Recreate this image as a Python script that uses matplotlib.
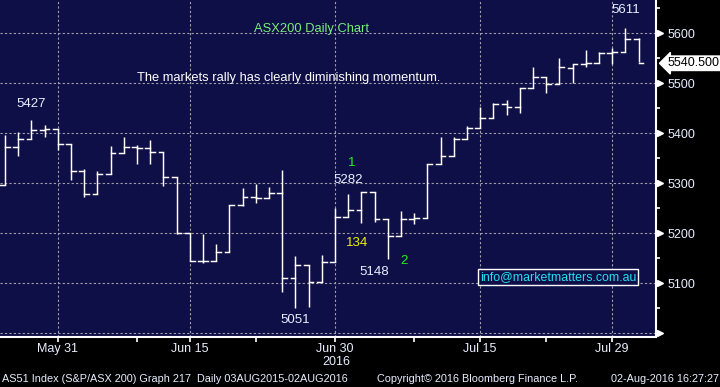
import matplotlib
matplotlib.use("Agg")
import matplotlib.pyplot as plt
from matplotlib.ticker import FixedLocator, MultipleLocator

dates = ["May 25", "May 26", "May 27", "May 30", "May 31",
         "Jun 1", "Jun 2", "Jun 3", "Jun 6", "Jun 7", "Jun 8", "Jun 9", "Jun 10",
         "Jun 14", "Jun 15", "Jun 16", "Jun 17", "Jun 20", "Jun 21", "Jun 22",
         "Jun 23", "Jun 24", "Jun 27", "Jun 28", "Jun 29", "Jun 30",
         "Jul 1", "Jul 4", "Jul 5", "Jul 6", "Jul 7", "Jul 8", "Jul 11", "Jul 12",
         "Jul 13", "Jul 14", "Jul 15", "Jul 18", "Jul 19", "Jul 20", "Jul 21",
         "Jul 22", "Jul 25", "Jul 26", "Jul 27", "Jul 28", "Jul 29",
         "Aug 1", "Aug 2"]
opens = [5297, 5372, 5388, 5406, 5408, 5379, 5325, 5278, 5318, 5360, 5372, 5370, 5362,
         5312, 5201, 5145, 5145, 5162, 5257, 5273, 5270, 5280, 5111, 5137, 5102, 5142,
         5232, 5247, 5282, 5228, 5195, 5229, 5230, 5339, 5355, 5388, 5411, 5430, 5458,
         5452, 5490, 5512, 5498, 5530, 5539, 5540, 5560, 5563, 5589]
highs = [5397, 5402, 5427, 5417, 5408, 5379, 5328, 5325, 5375, 5392, 5377, 5387, 5362,
         5312, 5201, 5198, 5179, 5257, 5290, 5298, 5292, 5327, 5155, 5137, 5157, 5250,
         5279, 5282, 5282, 5228, 5245, 5240, 5339, 5392, 5392, 5415, 5452, 5461, 5467,
         5490, 5532, 5513, 5550, 5539, 5567, 5563, 5570, 5611, 5590]
lows = [5297, 5355, 5388, 5393, 5367, 5307, 5272, 5278, 5318, 5360, 5338, 5338, 5295,
        5198, 5145, 5141, 5145, 5162, 5255, 5260, 5270, 5082, 5051, 5052, 5102, 5142,
        5232, 5220, 5223, 5148, 5195, 5218, 5230, 5339, 5355, 5388, 5411, 5430, 5437,
        5441, 5490, 5480, 5498, 5500, 5533, 5540, 5539, 5563, 5542]
closes = [5372, 5388, 5406, 5408, 5379, 5325, 5278, 5318, 5360, 5372, 5370, 5362, 5312,
          5201, 5145, 5145, 5162, 5257, 5273, 5270, 5280, 5111, 5137, 5102, 5142, 5232,
          5247, 5282, 5228, 5195, 5229, 5230, 5339, 5355, 5388, 5411, 5430, 5458, 5452,
          5490, 5512, 5498, 5533, 5539, 5540, 5560, 5563, 5589, 5540.5]

major_dates = ["May 31", "Jun 15", "Jun 30", "Jul 15", "Jul 29"]
minor_dates = ["Jun 8", "Jun 22", "Jul 8", "Jul 22"]
price_ticks = [5100, 5200, 5300, 5400, 5500, 5600]

bg = "#0f0f47"
txt = "#e8eeff"
plt.rcParams["font.family"] = ["Liberation Sans", "DejaVu Sans"]

fig = plt.figure(figsize=(7.2, 3.87), dpi=100, facecolor="black")
ax = fig.add_axes([0, 0.1292, 0.9111, 0.8708], facecolor=bg)

x = list(range(len(dates)))
tick_w = 0.36
for i in x:
    ax.plot([i, i], [lows[i], highs[i]], color="white", lw=1.05, solid_capstyle="butt")
    ax.plot([i - tick_w, i], [opens[i], opens[i]], color="white", lw=1.05)
    ax.plot([i, i + tick_w], [closes[i], closes[i]], color="white", lw=1.05)

ax.set_xlim(-0.38, 49.32)
ax.set_ylim(4993, 5667)

# dotted grid
for p in [5000] + price_ticks:
    ax.axhline(p, color="#a0a0a8", lw=0.8, ls=(0, (2, 2)), zorder=0)
for d in major_dates:
    ax.axvline(dates.index(d), color="#a0a0a8", lw=0.8, ls=(0, (2, 2)), zorder=0)

for s in ["top", "left"]:
    ax.spines[s].set_visible(False)
for s in ["right", "bottom"]:
    ax.spines[s].set_color("white")
    ax.spines[s].set_linewidth(1.5)

# x axis
ax.xaxis.set_major_locator(FixedLocator([dates.index(d) for d in major_dates]))
ax.xaxis.set_minor_locator(FixedLocator([dates.index(d) for d in minor_dates]))
ax.set_xticklabels(major_dates, fontsize=9, color=txt)
ax.tick_params(axis="x", which="both", colors="white", length=3.5, width=1.2, pad=0.5)
ax.tick_params(axis="x", which="major", labelcolor=txt)

# y axis on the right
ax.yaxis.tick_right()
ax.yaxis.set_major_locator(FixedLocator(price_ticks))
ax.yaxis.set_minor_locator(MultipleLocator(50))
ax.set_yticklabels([str(p) for p in price_ticks], fontsize=9, color=txt)
ax.tick_params(axis="y", which="major", length=0, pad=8)
ax.tick_params(axis="y", which="minor", length=3, width=1.2, colors="white")
ax.plot([49.62] * 7, [5000] + price_ticks, ">", color="white", ms=4.5,
        clip_on=False, zorder=5)

# last price tag
ax.annotate(f"{closes[-1]:.3f}", xy=(1, closes[-1]), xycoords=("axes fraction", "data"),
            xytext=(8, 0), textcoords="offset points", fontsize=9, color="black",
            va="center", ha="left", annotation_clip=False,
            bbox=dict(boxstyle="larrow,pad=0.1", fc="white", ec="white"))

# annotations
lab = dict(color=txt, fontsize=9.5, ha="center", va="center")
ax.text(2, highs[2] + 31, "5427", **lab)
ax.text(47, highs[47] + 35, "5611", **lab)
ax.text(26, highs[27] + 24, "5282", **lab)
ax.text(22, lows[22] - 25, "5051", **lab)
ax.text(28, lows[29] - 26, "5148", **lab)
ax.text(26.3, 5340, "1", color="#22ee22", fontsize=9.5, ha="center", va="center")
ax.text(26.7, 5180, "134", color="#f0f000", fontsize=9.5, ha="center", va="center")
ax.text(30.2, 5144, "2", color="#22ee22", fontsize=9.5, ha="center", va="center")

ax.text(0.4756, 0.915, "ASX200 Daily Chart", transform=ax.transAxes, color="#77ee77",
        fontsize=9.3, ha="center", va="center")
ax.text(0.209, 0.769, "The markets rally has clearly diminishing momentum.",
        transform=ax.transAxes, color="white", fontsize=9.3, ha="left", va="center")
ax.text(0.732, 0.178, "info@marketmatters.com.au", transform=ax.transAxes,
        color="#22e0f0", fontsize=8.9, ha="left", va="center",
        bbox=dict(boxstyle="square,pad=0.15", fc=bg, ec="white", lw=1))

fig.text(0.467, 0.0646, "2016", fontsize=9, color=txt, ha="center", va="center")
foot = dict(fontsize=7.8, color=txt, va="center")
fig.text(0.003, 0.0207, "AS51 Index (S&P/ASX 200) Graph 217  Daily 03AUG2015-02AUG2016",
         ha="left", **foot)
fig.text(0.524, 0.0207, "Copyright\u00a9 2016 Bloomberg Finance L.P.", ha="left", **foot)
fig.text(0.999, 0.0207, "02-Aug-2016 16:27:27", ha="right", **foot)

fig.savefig("out.png", dpi=100, facecolor="black")
